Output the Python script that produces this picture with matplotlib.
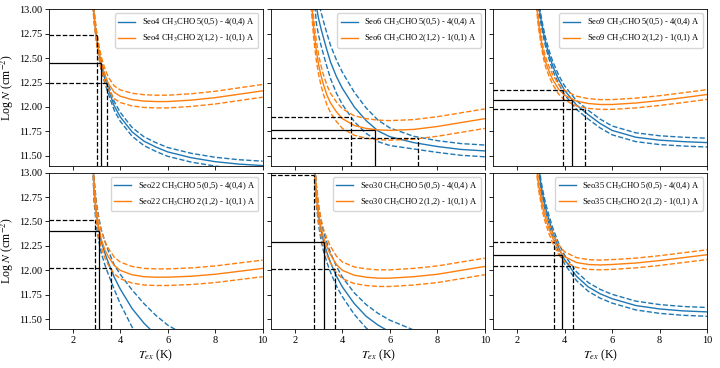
import matplotlib
matplotlib.use("Agg")
import matplotlib.pyplot as plt
import numpy as np
from matplotlib.ticker import MultipleLocator

plt.rcParams["font.family"] = ["Liberation Serif", "DejaVu Serif"]
plt.rcParams["mathtext.fontset"] = "stix"
# the original looks like a default-styled figure shrunk by ~0.75
plt.rcParams.update({
    "axes.linewidth": 0.6,
    "xtick.major.size": 2.6, "ytick.major.size": 2.6,
    "xtick.major.width": 0.6, "ytick.major.width": 0.6,
    "xtick.major.pad": 2.4, "ytick.major.pad": 2.4,
    "legend.fontsize": 6.1,
})

SOURCES = ["Seo4", "Seo6", "Seo9", "Seo22", "Seo30", "Seo35"]
LINE_A = "CH$_3$CHO 5(0,5) - 4(0,4) A"
LINE_B = "CH$_3$CHO 2(1,2) - 1(0,1) A"

XLIM = (1, 10)
YLIM = (11.4, 13.0)

# excitation temperature grid (K)
TEX = [2.5, 2.6, 2.7, 2.8, 2.9, 3.0, 3.1, 3.2, 3.35, 3.5,
       3.75, 4.0, 4.5, 5.0, 5.5, 6.0, 7.0, 8.0, 9.0, 10.0]

# log N for the 5(0,5)-4(0,4) line, one row per source
LOGN_A = [
    [14.8, 14.2, 13.7, 13.25, 12.93, 12.72, 12.56, 12.43, 12.29, 12.18,
     12.01, 11.9, 11.745, 11.65, 11.59, 11.54, 11.48, 11.44, 11.415, 11.40],
    [15.0, 14.5, 13.9, 13.35, 13.03, 12.9, 12.8, 12.71, 12.58, 12.46,
     12.31, 12.19, 12.0, 11.86, 11.755, 11.695, 11.635, 11.595, 11.565, 11.55],
    [15.0, 14.4, 13.8, 13.3, 13.06, 12.9, 12.77, 12.66, 12.53, 12.42,
     12.28, 12.17, 12.02, 11.92, 11.83, 11.76, 11.69, 11.66, 11.645, 11.635],
    [15.0, 14.6, 14.1, 13.5, 12.82, 12.57, 12.42, 12.30, 12.18, 12.08,
     11.93, 11.81, 11.61, 11.46, 11.34, 11.24, 11.10, 11.0, 10.93, 10.88],
    [15.0, 14.5, 13.9, 13.2, 12.78, 12.56, 12.41, 12.30, 12.18, 12.08,
     11.94, 11.83, 11.66, 11.53, 11.44, 11.37, 11.27, 11.2, 11.15, 11.12],
    [15.5, 14.8, 14.1, 13.5, 13.1, 12.88, 12.75, 12.64, 12.51, 12.39,
     12.23, 12.11, 11.94, 11.83, 11.76, 11.71, 11.64, 11.605, 11.585, 11.575],
]
ERR_A = [
    [0.045] * 20,
    [0.17, 0.17, 0.17, 0.17, 0.17, 0.17, 0.17, 0.17, 0.17, 0.17,
     0.17, 0.165, 0.15, 0.13, 0.11, 0.09, 0.065, 0.06, 0.06, 0.06],
    [0.045] * 20,
    [0.12, 0.12, 0.12, 0.12, 0.12, 0.12, 0.12, 0.12, 0.12, 0.12,
     0.125, 0.15, 0.19, 0.2, 0.2, 0.2, 0.2, 0.2, 0.2, 0.2],
    [0.1, 0.1, 0.1, 0.1, 0.1, 0.1, 0.1, 0.1, 0.1, 0.1,
     0.1, 0.1, 0.11, 0.12, 0.12, 0.12, 0.12, 0.12, 0.12, 0.12],
    [0.045] * 20,
]

# log N for the 2(1,2)-1(0,1) line
LOGN_B = [
    [14.8, 14.2, 13.7, 13.24, 12.93, 12.72, 12.57, 12.45, 12.33, 12.24,
     12.15, 12.11, 12.075, 12.06, 12.055, 12.055, 12.07, 12.095, 12.13, 12.165],
    [14.0, 13.45, 13.07, 12.78, 12.58, 12.43, 12.32, 12.23, 12.12, 12.04,
     11.95, 11.88, 11.81, 11.78, 11.765, 11.76, 11.77, 11.8, 11.84, 11.88],
    [14.5, 13.95, 13.45, 13.1, 12.86, 12.7, 12.56, 12.46, 12.36, 12.28,
     12.18, 12.12, 12.06, 12.035, 12.025, 12.025, 12.04, 12.065, 12.095, 12.127],
    [15.0, 14.6, 14.1, 13.5, 12.83, 12.58, 12.43, 12.32, 12.215, 12.14,
     12.05, 12.0, 11.955, 11.935, 11.93, 11.93, 11.94, 11.96, 11.99, 12.02],
    [15.0, 14.5, 13.9, 13.2, 12.79, 12.58, 12.44, 12.34, 12.24, 12.16,
     12.06, 12.0, 11.95, 11.93, 11.92, 11.92, 11.935, 11.96, 12.0, 12.04],
    [14.6, 14.0, 13.5, 13.1, 12.88, 12.74, 12.62, 12.53, 12.42, 12.33,
     12.21, 12.14, 12.08, 12.06, 12.055, 12.06, 12.075, 12.1, 12.13, 12.16],
]
ERR_B = [
    [0.065] * 20,
    [0.1] * 20,
    [0.05] * 20,
    [0.085] * 20,
    [0.085] * 20,
    [0.05] * 20,
]

# crossing points: lower-T bound, best, upper-T bound
CROSS_T = [
    [3.02, 3.18, 3.44],
    [4.35, 5.37, 7.18],
    [3.93, 4.33, 4.88],
    [2.96, 3.09, 3.60],
    [2.81, 3.22, 3.70],
    [3.57, 3.91, 4.36],
]
CROSS_N = [
    [12.74, 12.445, 12.25],
    [11.897, 11.767, 11.68],
    [12.178, 12.072, 11.976],
    [12.52, 12.405, 12.02],
    [12.98, 12.286, 12.017],
    [12.29, 12.153, 12.043],
]

fig, axes = plt.subplots(2, 3, figsize=(7.2, 3.68), sharex=True, sharey=True)
fig.subplots_adjust(left=0.068, right=0.982, top=0.975, bottom=0.106,
                    wspace=0.04, hspace=0.045)

t = np.array(TEX)
for k, ax in enumerate(axes.flat):
    name = SOURCES[k]
    for n, e, c, lab in ((LOGN_A[k], ERR_A[k], "C0", LINE_A),
                         (LOGN_B[k], ERR_B[k], "C1", LINE_B)):
        n = np.array(n)
        e = np.array(e)
        ax.plot(t, n, color=c, lw=1.0, label=f"{name} {lab}")
        ax.plot(t, n + e, "--", color=c, lw=1.0)
        ax.plot(t, n - e, "--", color=c, lw=1.0)

    for i, (tc, nc) in enumerate(zip(CROSS_T[k], CROSS_N[k])):
        ls = "-" if i == 1 else "--"
        ax.hlines(nc, XLIM[0], tc, colors="k", linestyles=ls, lw=0.9, zorder=3)
        ax.vlines(tc, YLIM[0], nc, colors="k", linestyles=ls, lw=0.9, zorder=3)

    ax.set_xlim(XLIM)
    ax.set_ylim(YLIM)
    ax.xaxis.set_major_locator(MultipleLocator(2))
    ax.yaxis.set_major_locator(MultipleLocator(0.25))
    ax.tick_params(labelsize=7.5)
    ax.legend(loc="upper right")

for ax in axes[:, 0]:
    ax.set_ylabel("Log $N$ (cm$^{-2}$)", fontsize=8.5, labelpad=2)
for ax in axes[1, :]:
    ax.set_xlabel("$T_{ex}$ (K)", fontsize=8.5, labelpad=2)

fig.savefig("out.png", dpi=100)
